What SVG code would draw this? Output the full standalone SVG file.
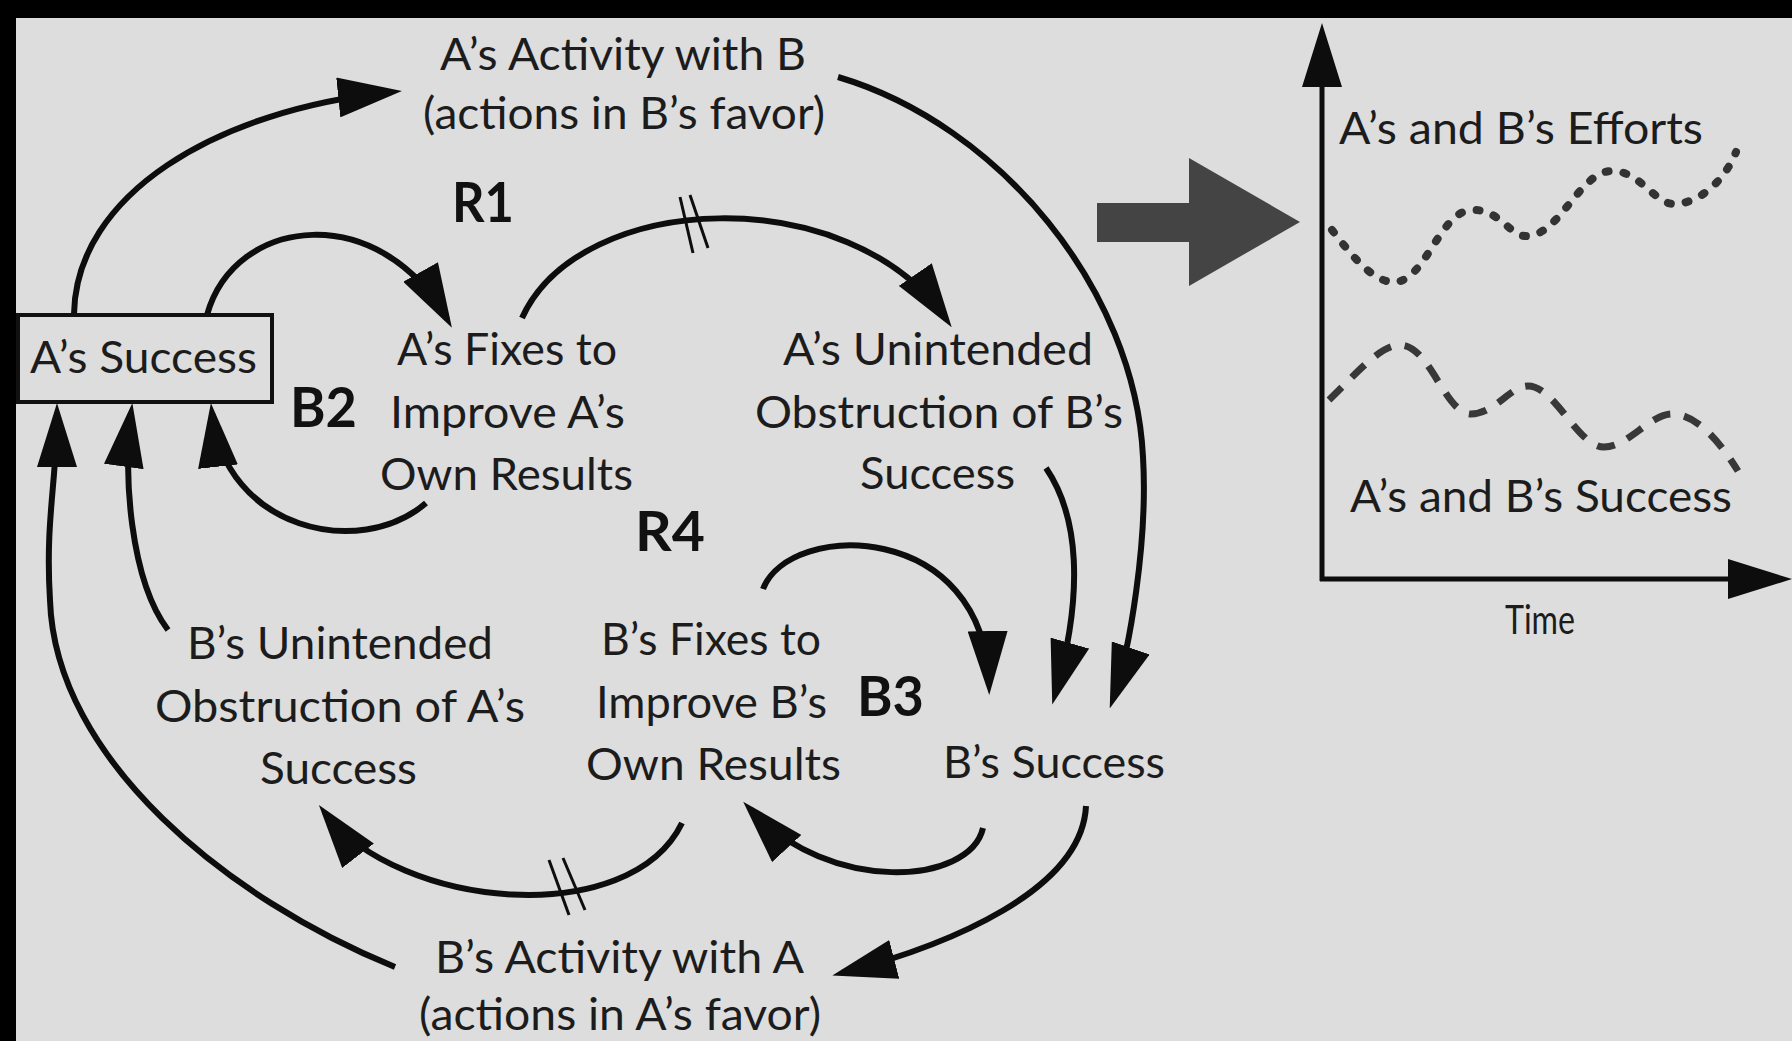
<svg xmlns="http://www.w3.org/2000/svg" width="1792" height="1041" viewBox="0 0 1792 1041">
  <style>
    .t { font-family: Lato, "Liberation Sans", sans-serif; font-size: 44px; fill: #1c1c1c; }
    .b { font-family: Lato, "Liberation Sans", sans-serif; font-size: 56px; font-weight: 700; fill: #111; }
    .c { fill: none; stroke: #0d0d0d; stroke-width: 6; marker-end: url(#ah); }
    .hash { stroke: #0d0d0d; stroke-width: 3; }
    .axis { fill: none; stroke: #0d0d0d; stroke-width: 5; marker-end: url(#ah); }
  </style>
  <defs>
    <marker id="ah" markerUnits="userSpaceOnUse" viewBox="0 0 64 40" markerWidth="64" markerHeight="40" refX="54" refY="20" orient="auto">
      <path d="M0,0 L64,20 L0,40 z" fill="#0d0d0d"/>
    </marker>
  </defs>

  <!-- page and frame -->
  <rect x="0" y="0" width="1792" height="1041" fill="#dddddd"/>
  <rect x="0" y="0" width="1792" height="18" fill="#000"/>
  <rect x="0" y="0" width="16" height="1041" fill="#000"/>

  <!-- causal loop connectors -->
  <g id="connectors">
    <!-- A's Success -> A's Activity with B -->
    <path class="c" d="M74,314 C76,195 215,110 392,92"/>
    <!-- A's Success -> A's Fixes (B2, upper) -->
    <path class="c" d="M207,315 C235,215 380,200 447,319"/>
    <!-- A's Fixes -> A's Unintended Obstruction (delayed) -->
    <path class="c" d="M522,318 C580,190 850,180 946,319"/>
    <!-- A's Fixes -> A's Success (B2, lower) -->
    <path class="c" d="M426,503 C360,560 225,530 212,413"/>
    <!-- B's Unintended Obstruction -> A's Success -->
    <path class="c" d="M168,630 C130,580 123,472 131,413"/>
    <!-- B's Activity with A -> A's Success -->
    <path class="c" d="M395,967 C230,900 55,760 50,600 C45,520 57,480 57,413"/>
    <!-- B's Fixes -> B's Unintended Obstruction (delayed) -->
    <path class="c" d="M682,823 C630,930 400,910 325,813"/>
    <!-- B's Fixes -> B's Success (B3, upper) -->
    <path class="c" d="M763,589 C790,520 985,520 989,685"/>
    <!-- A's Unintended Obstruction -> B's Success -->
    <path class="c" d="M1046,468 C1078,515 1085,590 1055,695"/>
    <!-- A's Activity with B -> B's Success -->
    <path class="c" d="M838,77 C1000,125 1135,290 1143,457 C1148,540 1130,650 1113,699"/>
    <!-- B's Success -> B's Fixes (B3, lower) -->
    <path class="c" d="M983,828 C970,885 830,895 750,809"/>
    <!-- B's Success -> B's Activity with A -->
    <path class="c" d="M1086,806 C1082,890 950,945 842,973"/>
    <!-- delay marks -->
    <line class="hash" x1="680" y1="197" x2="693" y2="253"/>
    <line class="hash" x1="690" y1="195" x2="708" y2="248"/>
    <line class="hash" x1="549" y1="860" x2="569" y2="915"/>
    <line class="hash" x1="563" y1="858" x2="585" y2="910"/>
  </g>

  <!-- nodes -->
  <g id="a-activity">
    <text class="t" x="440" y="70" textLength="366" lengthAdjust="spacingAndGlyphs">A’s Activity with B</text>
    <text class="t" x="423" y="129" textLength="402" lengthAdjust="spacingAndGlyphs">(actions in B’s favor)</text>
  </g>
  <g id="a-success">
    <rect x="18" y="315" width="254" height="87" fill="none" stroke="#111" stroke-width="4"/>
    <text class="t" x="30" y="373" textLength="227" lengthAdjust="spacingAndGlyphs">A’s Success</text>
  </g>
  <g id="a-fixes">
    <text class="t" x="397" y="365" textLength="220" lengthAdjust="spacingAndGlyphs">A’s Fixes to</text>
    <text class="t" x="390" y="428" textLength="235" lengthAdjust="spacingAndGlyphs">Improve A’s</text>
    <text class="t" x="380" y="490" textLength="253" lengthAdjust="spacingAndGlyphs">Own Results</text>
  </g>
  <g id="a-unintended">
    <text class="t" x="783" y="365" textLength="310" lengthAdjust="spacingAndGlyphs">A’s Unintended</text>
    <text class="t" x="755" y="428" textLength="368" lengthAdjust="spacingAndGlyphs">Obstruction of B’s</text>
    <text class="t" x="860" y="489" textLength="155" lengthAdjust="spacingAndGlyphs">Success</text>
  </g>
  <g id="b-unintended">
    <text class="t" x="187" y="659" textLength="306" lengthAdjust="spacingAndGlyphs">B’s Unintended</text>
    <text class="t" x="155" y="722" textLength="370" lengthAdjust="spacingAndGlyphs">Obstruction of A’s</text>
    <text class="t" x="260" y="784" textLength="157" lengthAdjust="spacingAndGlyphs">Success</text>
  </g>
  <g id="b-fixes">
    <text class="t" x="601" y="655" textLength="220" lengthAdjust="spacingAndGlyphs">B’s Fixes to</text>
    <text class="t" x="596" y="718" textLength="231" lengthAdjust="spacingAndGlyphs">Improve B’s</text>
    <text class="t" x="586" y="780" textLength="255" lengthAdjust="spacingAndGlyphs">Own Results</text>
  </g>
  <g id="b-success">
    <text class="t" x="943" y="778" textLength="222" lengthAdjust="spacingAndGlyphs">B’s Success</text>
  </g>
  <g id="b-activity">
    <text class="t" x="435" y="973" textLength="369" lengthAdjust="spacingAndGlyphs">B’s Activity with A</text>
    <text class="t" x="419" y="1030" textLength="402" lengthAdjust="spacingAndGlyphs">(actions in A’s favor)</text>
  </g>

  <!-- loop labels -->
  <g id="loop-labels">
    <text class="b" x="452" y="222" textLength="62" lengthAdjust="spacingAndGlyphs">R1</text>
    <text class="b" x="290" y="427" textLength="67" lengthAdjust="spacingAndGlyphs">B2</text>
    <text class="b" x="635" y="551" textLength="70" lengthAdjust="spacingAndGlyphs">R4</text>
    <text class="b" x="857" y="716" textLength="67" lengthAdjust="spacingAndGlyphs">B3</text>
  </g>

  <!-- transition arrow -->
  <g id="leads-to">
    <polygon points="1097,203 1189,203 1189,158 1300,222 1189,286 1189,242 1097,242" fill="#444"/>
  </g>

  <!-- behaviour over time -->
  <g id="graph">
    <path class="axis" d="M1322,581 L1322,33"/>
    <path class="axis" d="M1320,579 L1782,579"/>
    <path d="M1332,230 C1355,260 1375,283 1395,282 C1425,281 1440,212 1471,210 C1500,208 1510,238 1528,236 C1560,234 1580,172 1611,171 C1640,170 1655,205 1675,204 C1700,203 1725,180 1736,152" fill="none" stroke="#333" stroke-width="8" stroke-dasharray="3 15" stroke-linecap="round"/>
    <path d="M1329,400 C1355,375 1380,345 1400,345 C1430,345 1445,414 1471,414 C1495,414 1510,386 1528,386 C1555,386 1578,447 1604,447 C1628,447 1650,414 1672,414 C1700,414 1725,450 1738,471" fill="none" stroke="#383838" stroke-width="7" stroke-dasharray="18 14"/>
    <text class="t" x="1339" y="144" textLength="364" lengthAdjust="spacingAndGlyphs">A’s and B’s Efforts</text>
    <text class="t" x="1350" y="512" textLength="382" lengthAdjust="spacingAndGlyphs">A’s and B’s Success</text>
    <text class="t" x="1505" y="634" style="font-size:40px" textLength="70" lengthAdjust="spacingAndGlyphs">Time</text>
  </g>
</svg>
